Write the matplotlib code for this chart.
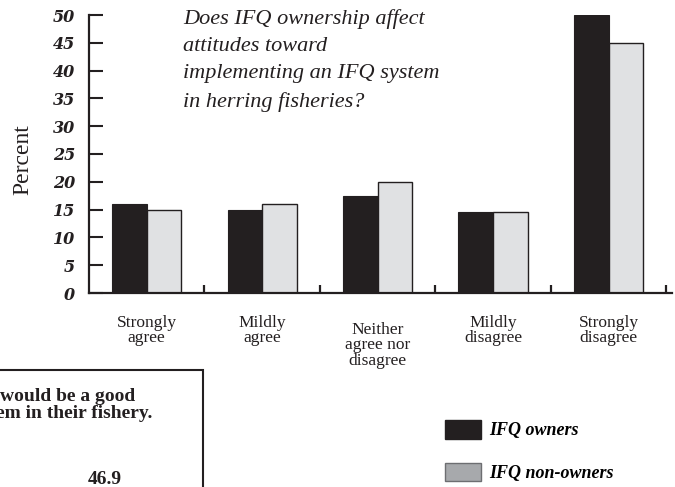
import matplotlib
matplotlib.use("Agg")
import matplotlib.pyplot as plt
from matplotlib.patches import Patch, Rectangle
import numpy as np

# Data
categories = ["Strongly\nagree", "Mildly\nagree", "Neither\nagree nor\ndisagree",
              "Mildly\ndisagree", "Strongly\ndisagree"]
owners = [16, 15, 17.5, 14.5, 50]
non_owners = [15, 16, 20, 14.5, 45]
yticks = [0, 5, 10, 15, 20, 25, 30, 35, 40, 45, 50]

dark = "#231f20"
light = "#e0e1e3"
legend_gray = "#a7a9ac"
serif = ["Liberation Serif", "DejaVu Serif"]

plt.rcParams["font.family"] = serif

fig = plt.figure(figsize=(6.75, 4.87), dpi=100)
ax = fig.add_axes([89 / 675, 1 - 293 / 487, (672 - 89) / 675, (293 - 15) / 487])

x = np.arange(1, len(categories) + 1)
w = 0.30
ax.bar(x - w / 2, owners, w, color=dark, edgecolor=dark, linewidth=0.8)
ax.bar(x + w / 2, non_owners, w, color=light, edgecolor=dark, linewidth=1.0)

ax.set_xlim(0.5, 5.55)
ax.set_ylim(0, 50)
ax.spines[["top", "right"]].set_visible(False)
for s in ["left", "bottom"]:
    ax.spines[s].set_linewidth(1.6)
    ax.spines[s].set_color(dark)

ax.set_yticks(yticks)
ax.set_yticklabels([str(v) for v in yticks], family="DejaVu Serif",
                   fontweight="bold", style="italic", fontsize=11.5)
ax.tick_params(axis="y", direction="in", length=10, width=1.5, pad=10, colors=dark)

ax.set_xticks(x)
ax.set_xticklabels([])
ax.tick_params(axis="x", which="major", length=0)
ax.set_xticks(np.arange(1.5, 6.0, 1.0), minor=True)
ax.tick_params(axis="x", which="minor", direction="in", length=6, width=1.6, colors=dark)

trans = ax.get_xaxis_transform()
for xi, lab in zip(x, categories):
    off = -22 / 278 if lab.count("\n") < 2 else -29 / 278
    ax.text(xi, off, lab, transform=trans, ha="center", va="top",
            fontsize=12.5, linespacing=0.95, color=dark)

fig.text(23 / 675, 1 - 160 / 487, "Percent", rotation=90, ha="center",
         va="center", fontsize=17, color=dark)

fig.text(183 / 675, 1 - 9 / 487,
         "Does IFQ ownership affect\nattitudes toward\nimplementing an IFQ system\nin herring fisheries?",
         ha="left", va="top", fontsize=16, style="italic", linespacing=1.58, color=dark)

# partial inset box at lower left
fig.patches.append(Rectangle((-0.02, -0.02), 203 / 675 + 0.02, 0.02 + 1 - 370 / 487,
                             transform=fig.transFigure, fill=False,
                             edgecolor=dark, linewidth=1.5))
fig.text(135 / 675, 1 - 401 / 487, "would be a good", ha="right", va="baseline",
         fontsize=14, fontweight="bold", color=dark)
fig.text(152 / 675, 1 - 418 / 487, "em in their fishery.", ha="right", va="baseline",
         fontsize=14, fontweight="bold", color=dark)
fig.text(122 / 675, 1 - 484 / 487, "46.9", ha="right", va="baseline",
         fontsize=14, fontweight="bold", color=dark)

handles = [Patch(facecolor=dark, edgecolor=dark, linewidth=1),
           Patch(facecolor=legend_gray, edgecolor="#6d6e71", linewidth=1)]
fig.legend(handles, ["IFQ owners", "IFQ non-owners"],
           loc="upper left", bbox_to_anchor=(445 / 675, 1 - 420 / 487),
           frameon=False, borderpad=0, borderaxespad=0,
           handlelength=2.0, handleheight=1.2, handletextpad=0.45,
           labelspacing=1.3,
           prop={"family": serif, "weight": "bold", "style": "italic", "size": 13})

fig.savefig("out.png", dpi=100)
